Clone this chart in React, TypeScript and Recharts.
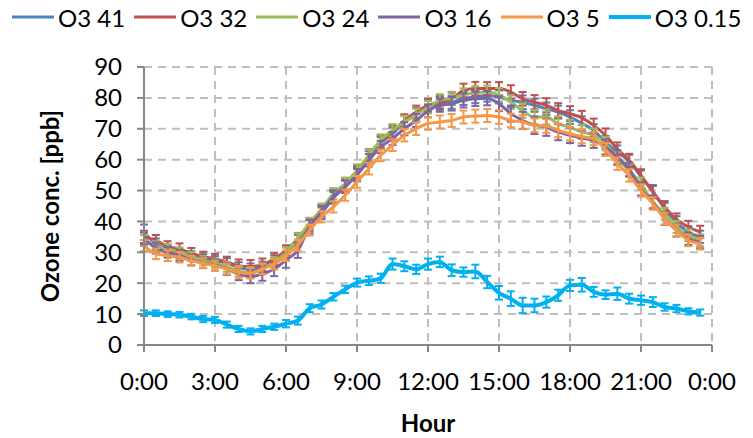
import {
  LineChart,
  Line,
  XAxis,
  YAxis,
  CartesianGrid,
  Legend,
  ErrorBar,
} from "recharts";

const hours = [
  0, 0.5, 1, 1.5, 2, 2.5, 3, 3.5, 4, 4.5, 5, 5.5, 6, 6.5, 7, 7.5, 8, 8.5, 9, 9.5, 10, 10.5, 11, 11.5,
  12, 12.5, 13, 13.5, 14, 14.5, 15, 15.5, 16, 16.5, 17, 17.5, 18, 18.5, 19, 19.5, 20, 20.5, 21, 21.5,
  22, 22.5, 23, 23.5,
];

const o41 = [
  36.5, 32.7, 30.8, 29.5, 28.9, 28.0, 27.3, 26.5, 25.1, 24.6, 25.2, 27.3, 30.0, 33.9, 38.6, 42.6,
  47.6, 51.2, 55.6, 60.8, 65.4, 68.4, 72.2, 74.7, 77.2, 78.1, 78.6, 79.8, 80.3, 80.8, 80.3, 79.2,
  78.6, 77.6, 76.5, 75.4, 73.8, 71.8, 69.5, 65.7, 62.5, 59.5, 54.5, 49.8, 44.1, 39.8, 36.6, 35.0,
];
const o32 = [
  35.0, 33.8, 31.9, 31.1, 29.7, 28.6, 27.9, 26.8, 25.7, 25.4, 26.0, 27.9, 30.6, 34.5, 39.3, 43.6,
  48.2, 51.8, 56.0, 61.4, 65.8, 69.0, 72.7, 75.4, 77.6, 78.6, 79.7, 82.4, 83.0, 83.0, 83.0, 81.9,
  79.7, 78.6, 77.6, 75.9, 74.9, 73.5, 71.1, 67.9, 63.5, 59.8, 54.9, 49.5, 44.7, 40.7, 38.2, 36.6,
];
const o24 = [
  33.8, 31.9, 31.1, 30.0, 28.6, 27.3, 26.5, 25.3, 23.9, 23.5, 24.6, 26.8, 30.0, 34.5, 39.5, 44.0,
  49.0, 52.3, 56.6, 61.4, 66.3, 69.5, 72.2, 74.5, 77.0, 79.2, 79.9, 81.0, 81.7, 81.9, 81.0, 78.6,
  75.9, 73.8, 73.8, 71.6, 70.5, 69.0, 67.9, 65.2, 60.3, 56.5, 52.2, 46.3, 42.5, 38.2, 35.5, 33.9,
];
const o16 = [
  34.5, 31.4, 30.0, 28.9, 27.5, 26.6, 25.9, 24.6, 23.0, 22.1, 23.0, 24.6, 27.5, 30.7, 38.3, 43.0,
  48.0, 51.2, 55.0, 59.8, 64.1, 66.8, 70.0, 72.7, 75.8, 77.6, 78.1, 79.2, 79.7, 79.9, 78.1, 74.9,
  72.7, 71.1, 70.5, 68.9, 67.9, 67.0, 66.2, 64.1, 60.8, 56.9, 50.5, 46.3, 40.9, 37.1, 34.4, 33.3,
];
const o5 = [
  32.2, 29.5, 28.9, 28.4, 27.3, 26.5, 25.7, 24.6, 23.5, 23.2, 24.6, 26.2, 28.9, 32.3, 37.2, 41.5,
  44.7, 48.5, 52.8, 57.1, 61.4, 64.7, 67.9, 70.0, 71.7, 72.2, 72.7, 73.8, 74.1, 74.3, 73.8, 72.7,
  72.2, 71.1, 70.9, 69.5, 68.4, 67.5, 66.8, 63.3, 58.7, 54.9, 50.0, 45.8, 40.9, 37.1, 33.9, 32.8,
];
const o015 = [
  10.3, 10.3, 10.0, 9.8, 9.2, 8.4, 8.1, 6.6, 5.2, 4.4, 5.2, 5.9, 6.9, 7.9, 11.9, 13.1,
  15.6, 18.0, 20.2, 20.8, 21.6, 26.2, 25.5, 24.5, 26.2, 26.9, 24.2, 23.6, 23.8, 20.4, 16.9, 15.0,
  12.8, 12.8, 13.9, 16.1, 19.3, 19.5, 17.2, 16.3, 16.6, 15.0, 14.5, 13.9, 12.3, 11.8, 10.9, 10.5,
];

const e41 = [
  2.5, 1.8, 1.6, 1.5, 1.5, 1.4, 1.5, 1.6, 1.7, 1.8, 1.8, 1.7, 1.6, 1.7, 1.8, 1.9,
  1.9, 2.0, 2.0, 1.9, 1.9, 2.0, 2.1, 2.1, 2.0, 2.0, 2.1, 2.1, 2.0, 2.0, 2.1, 2.2,
  2.2, 2.1, 2.0, 2.1, 2.2, 2.2, 2.0, 2.0, 2.1, 2.1, 2.0, 2.0, 1.9, 1.9, 1.9, 2.0,
];
const e32 = [
  2.0, 1.8, 1.7, 1.8, 1.7, 1.6, 1.6, 1.8, 2.0, 2.1, 2.0, 1.8, 1.7, 1.8, 1.8, 1.9,
  1.9, 1.9, 2.0, 2.0, 2.0, 2.0, 2.0, 2.1, 2.1, 2.0, 2.0, 2.2, 2.2, 2.1, 2.1, 2.2,
  2.2, 2.3, 2.3, 2.4, 2.4, 2.3, 2.2, 2.2, 2.1, 2.1, 2.0, 2.0, 1.9, 1.9, 2.0, 2.0,
];
const e24 = [
  1.8, 1.7, 1.6, 1.6, 1.5, 1.5, 1.5, 1.6, 1.7, 1.7, 1.7, 1.6, 1.6, 1.7, 1.7, 1.8,
  1.8, 1.9, 1.9, 1.9, 1.9, 2.0, 2.0, 2.0, 2.0, 2.0, 2.1, 2.1, 2.1, 2.1, 2.2, 2.2,
  2.3, 2.3, 2.4, 2.4, 2.4, 2.3, 2.2, 2.2, 2.1, 2.1, 2.0, 2.0, 1.9, 1.9, 1.9, 1.9,
];
const e16 = [
  1.9, 1.8, 1.7, 1.7, 1.7, 1.7, 1.8, 1.9, 2.0, 2.1, 2.2, 2.3, 2.5, 2.5, 2.2, 2.0,
  2.0, 2.0, 2.0, 2.0, 2.0, 2.1, 2.1, 2.1, 2.1, 2.1, 2.2, 2.3, 2.3, 2.3, 2.4, 2.6,
  2.8, 2.8, 2.8, 2.6, 2.5, 2.5, 2.4, 2.4, 2.3, 2.2, 2.1, 2.1, 2.0, 2.0, 2.0, 2.0,
];
const e5 = [
  1.8, 1.7, 1.7, 1.7, 1.6, 1.6, 1.6, 1.7, 1.7, 1.7, 1.7, 1.7, 1.7, 1.8, 1.8, 1.8,
  1.8, 1.8, 1.9, 1.9, 1.9, 1.9, 2.0, 2.0, 2.0, 2.1, 2.1, 2.1, 2.1, 2.1, 2.2, 2.2,
  2.2, 2.2, 2.2, 2.2, 2.2, 2.2, 2.1, 2.1, 2.0, 2.0, 2.0, 2.0, 1.9, 1.9, 1.9, 1.9,
];
const e015 = [
  0.9, 0.9, 0.9, 0.9, 0.9, 1.0, 1.0, 1.0, 1.0, 1.0, 1.0, 1.0, 1.2, 1.3, 1.3, 1.3,
  1.2, 1.2, 1.3, 1.4, 1.5, 1.8, 1.6, 1.5, 1.8, 1.7, 1.9, 1.5, 2.2, 2.0, 2.2, 2.4,
  2.5, 2.2, 1.8, 1.8, 1.8, 2.2, 1.6, 1.4, 2.0, 1.6, 1.5, 1.6, 1.2, 1.2, 1.0, 1.0,
];

const yTicks = [0, 10, 20, 30, 40, 50, 60, 70, 80, 90];
const xTicks = [0, 3, 6, 9, 12, 15, 18, 21, 24];

const series = [
  { key: "o41", err: "e41", name: "O3 41", color: "#4F81BD", width: 3 },
  { key: "o32", err: "e32", name: "O3 32", color: "#C0504D", width: 3 },
  { key: "o24", err: "e24", name: "O3 24", color: "#9BBB59", width: 3 },
  { key: "o16", err: "e16", name: "O3 16", color: "#8064A2", width: 3 },
  { key: "o5", err: "e5", name: "O3 5", color: "#F79646", width: 3 },
  { key: "o015", err: "e015", name: "O3 0.15", color: "#00B0F0", width: 4 },
];

const data = hours.map((t, i) => ({
  t,
  o41: o41[i], e41: e41[i],
  o32: o32[i], e32: e32[i],
  o24: o24[i], e24: e24[i],
  o16: o16[i], e16: e16[i],
  o5: o5[i], e5: e5[i],
  o015: o015[i], e015: e015[i],
}));

const font = "Lato, 'Open Sans', sans-serif";

function LegendRow() {
  return (
    <div style={{ display: "flex", alignItems: "center", height: 30, paddingLeft: 12, fontFamily: font, fontSize: 24, color: "#000" }}>
      {series.map(s => (
        <div key={s.key} style={{ display: "flex", alignItems: "center", marginRight: 9 }}>
          <svg width={42} height={10} style={{ marginRight: 4 }}>
            <line x1={0} y1={5} x2={42} y2={5} stroke={s.color} strokeWidth={s.width} />
          </svg>
          <span style={{ whiteSpace: "nowrap" }}>{s.name}</span>
        </div>
      ))}
    </div>
  );
}

// y tick labels sit a bit further from the axis than the default
function YTick(props: any) {
  const { x, y, payload } = props;
  return (
    <text x={x - 13} y={y} dy="0.35em" textAnchor="end" fill="#000" fontSize={24} fontFamily={font}>
      {payload.value}
    </text>
  );
}

export default function App() {
  return (
    <div style={{ position: "absolute", left: 0, top: 0 }}>
      <LineChart width={753} height={438} data={data} margin={{ top: 37, right: 41, bottom: 3, left: 30 }}>
        <CartesianGrid stroke="#bfbfbf" strokeWidth={2} strokeDasharray="8 6" />
        <XAxis
          dataKey="t"
          type="number"
          domain={[0, 24]}
          ticks={xTicks}
          interval={0}
          tickFormatter={(h: number) => `${h % 24}:00`}
          height={90}
          tickSize={7}
          tickMargin={21}
          stroke="#868686"
          strokeWidth={2}
          tick={{ fill: "#000", fontSize: 24, fontFamily: font }}
          label={{ value: "Hour", position: "insideBottom", offset: 3, fill: "#000", fontSize: 24, fontWeight: 700, fontFamily: font }}
        />
        <YAxis
          domain={[0, 90]}
          ticks={yTicks}
          interval={0}
          width={114}
          tickSize={7}
          stroke="#868686"
          strokeWidth={2}
          tick={<YTick />}
          label={{
            value: "Ozone conc. [ppb]",
            angle: -90,
            position: "insideLeft",
            offset: 20,
            fill: "#000",
            fontSize: 24,
            fontWeight: 700,
            fontFamily: font,
            style: { textAnchor: "middle" },
          }}
        />
        <Legend verticalAlign="top" align="left" wrapperStyle={{ top: 2, left: 0, width: 753 }} content={() => <LegendRow />} />
        {series.map(s => (
          <Line
            key={s.key}
            type="monotone"
            dataKey={s.key}
            name={s.name}
            stroke={s.color}
            strokeWidth={s.width}
            dot={false}
            isAnimationActive={false}
          >
            <ErrorBar dataKey={s.err} width={4} strokeWidth={2} stroke={s.color} isAnimationActive={false} />
          </Line>
        ))}
      </LineChart>
    </div>
  );
}
